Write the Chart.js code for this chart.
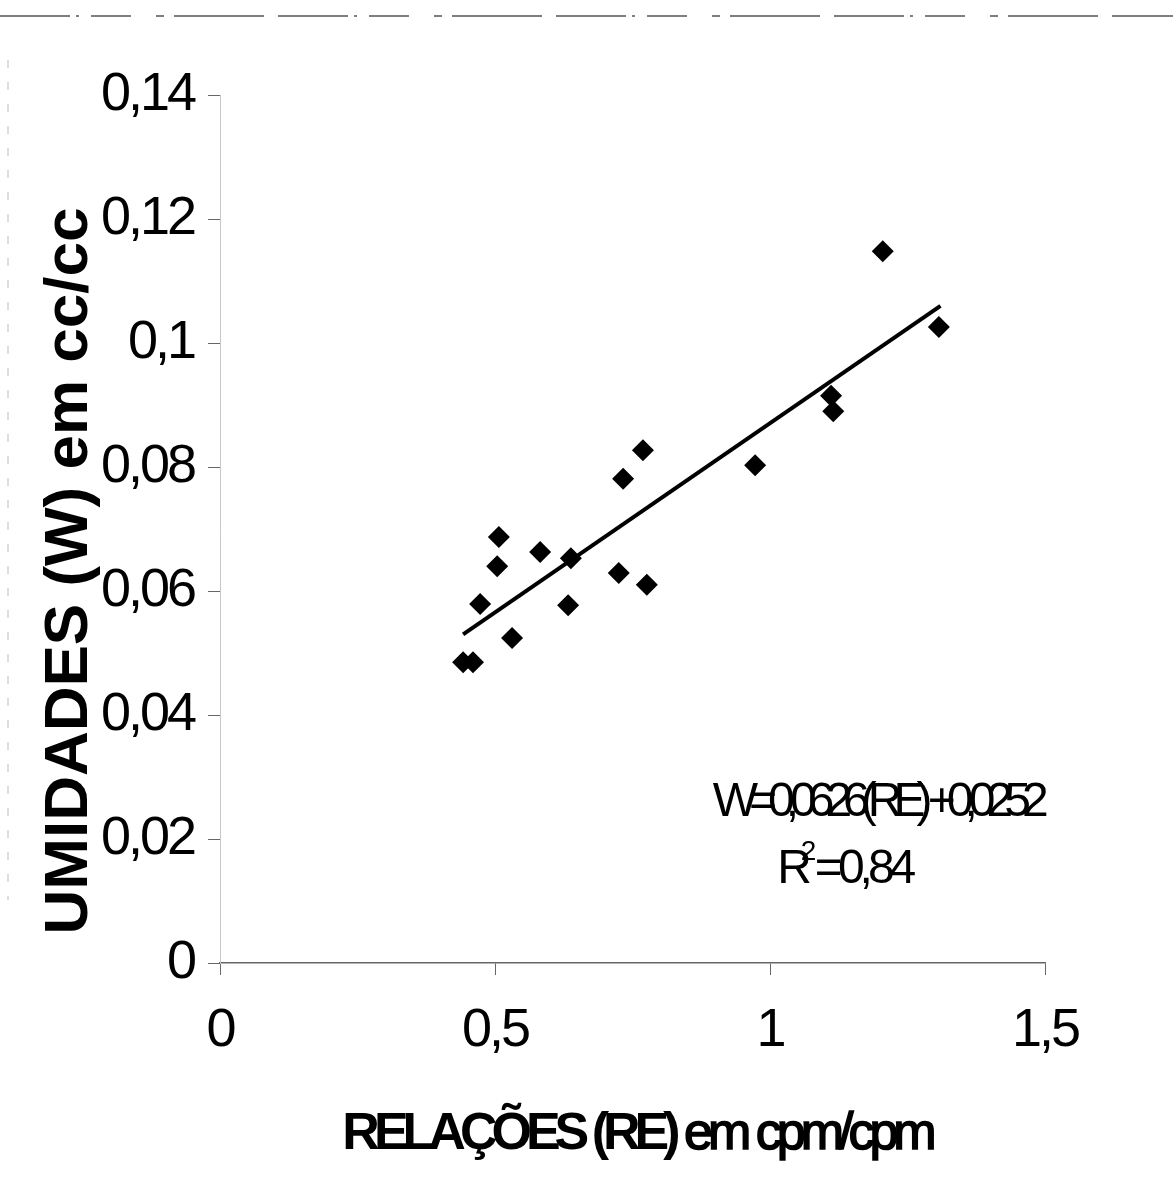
<!DOCTYPE html>
<html>
<head>
<meta charset="utf-8">
<script src="https://cdn.jsdelivr.net/npm/chart.js@4.4.1/dist/chart.umd.min.js"></script>
<style>
  body { margin: 0; background: #fff; }
  canvas { display: block; }
</style>
</head>
<body>
<canvas id="grafico" width="1173" height="1191"></canvas>
<script>
// valores
const relacoes = [0.442, 0.46, 0.473, 0.504, 0.507, 0.531, 0.582, 0.633, 0.638, 0.725, 0.733, 0.769, 0.776, 0.973, 1.111, 1.115, 1.205, 1.307];
const umidades = [0.0485, 0.0485, 0.0579, 0.0640, 0.0687, 0.0524, 0.0663, 0.0577, 0.0653, 0.0629, 0.0781, 0.0827, 0.0610, 0.0803, 0.0915, 0.0890, 0.1148, 0.1026];
const tendenciaX = [0.442, 1.31];
const tendenciaY = [0.0530, 0.1060];
const ticksX = [0, 0.5, 1, 1.5];
const rotulosX = ["0", "0,5", "1", "1,5"];
const ticksY = [0, 0.02, 0.04, 0.06, 0.08, 0.1, 0.12, 0.14];
const rotulosY = ["0", "0,02", "0,04", "0,06", "0,08", "0,1", "0,12", "0,14"];
const tituloX = ["RELAÇÕES (RE)", " em cpm/cpm"];
const tituloY = "UMIDADES (W) em cc/cc";
const equacao = "W=0,0626(RE) +0,0252";
const r2 = "0,84";

const fonte = "'Liberation Sans', Arial, sans-serif";

const pontos = relacoes.map((x, i) => ({x: x, y: umidades[i]}));
const linha = tendenciaX.map((x, i) => ({x: x, y: tendenciaY[i]}));

// rótulos dos eixos um pouco comprimidos como no original
const espacamento = {
    id: "espacamento",
    beforeDraw(chart) {
        chart.ctx.letterSpacing = "-3px";
    }
};

const textos = {
    id: "textos",
    afterDraw(chart) {
        const ctx = chart.ctx;
        const sx = chart.scales.x;
        const sy = chart.scales.y;
        ctx.save();
        ctx.fillStyle = "#000";
        ctx.strokeStyle = "#000";
        ctx.textBaseline = "middle";

        // título do eixo x: parte em negrito e parte normal (mais grossa)
        ctx.textAlign = "left";
        ctx.letterSpacing = "-6px";
        ctx.font = "bold 52px " + fonte;
        const w1 = ctx.measureText(tituloX[0]).width;
        ctx.font = "52px " + fonte;
        ctx.letterSpacing = "-5px";
        const w2 = ctx.measureText(tituloX[1]).width;
        const x0 = 637 - (w1 + w2) / 2;
        ctx.lineWidth = 1.6;
        ctx.fillText(tituloX[1], x0 + w1, 1135);
        ctx.strokeText(tituloX[1], x0 + w1, 1135);
        ctx.font = "bold 52px " + fonte;
        ctx.letterSpacing = "-6px";
        ctx.fillText(tituloX[0], x0, 1135);

        // título do eixo y
        ctx.save();
        ctx.translate(70, 571);
        ctx.rotate(-Math.PI / 2);
        ctx.textAlign = "center";
        ctx.font = "bold 62px " + fonte;
        ctx.letterSpacing = "0px";
        ctx.fillText(tituloY, 0, 0);
        ctx.restore();

        // equação da reta
        ctx.textAlign = "center";
        ctx.font = "48px " + fonte;
        ctx.letterSpacing = "-9px";
        ctx.fillText(equacao, sx.getPixelForValue(1.193), sy.getPixelForValue(0.0258));

        // R² = 0,84
        ctx.letterSpacing = "-5px";
        const cx = sx.getPixelForValue(1.135);
        const cy = sy.getPixelForValue(0.0150);
        const wR = ctx.measureText("R").width;
        const wResto = ctx.measureText("=" + r2).width;
        const total = wR + wResto + 8;
        ctx.textAlign = "left";
        ctx.fillText("R", cx - total / 2, cy);
        ctx.fillText("=" + r2, cx - total / 2 + wR + 8, cy);
        ctx.font = "28px " + fonte;
        ctx.letterSpacing = "0px";
        ctx.fillText("2", cx - total / 2 + wR - 6, cy - 18);

        // bordas tracejadas do scan
        ctx.strokeStyle = "#555";
        ctx.lineWidth = 1.5;
        ctx.setLineDash([70, 6, 3, 12, 40, 25, 8, 10, 90, 14]);
        ctx.beginPath();
        ctx.moveTo(0, 16);
        ctx.lineTo(chart.width, 16);
        ctx.stroke();
        ctx.strokeStyle = "#bbb";
        ctx.lineWidth = 1;
        ctx.setLineDash([8, 14]);
        ctx.beginPath();
        ctx.moveTo(8, 60);
        ctx.lineTo(8, 900);
        ctx.stroke();
        ctx.restore();
    }
};

new Chart(document.getElementById("grafico"), {
    type: "scatter",
    data: {
        datasets: [
            {
                data: pontos,
                pointStyle: "rectRot",
                pointRadius: 11,
                pointBackgroundColor: "#000",
                pointBorderColor: "#000",
                borderWidth: 0,
                order: 1
            },
            {
                type: "line",
                data: linha,
                borderColor: "#000",
                borderWidth: 4,
                pointRadius: 0,
                fill: false,
                order: 2
            }
        ]
    },
    options: {
        responsive: false,
        animation: false,
        events: [],
        layout: {
            padding: {top: 95, right: 128, left: 0, bottom: 0}
        },
        plugins: {
            legend: {display: false},
            tooltip: {enabled: false}
        },
        scales: {
            x: {
                type: "linear",
                min: 0,
                max: 1.5,
                afterBuildTicks: (scale) => {
                    scale.ticks = ticksX.map((v) => ({value: v}));
                },
                afterFit: (scale) => {
                    scale.height = 228;
                },
                ticks: {
                    padding: 24,
                    color: "#000",
                    font: {family: fonte, size: 54},
                    callback: (value) => rotulosX[ticksX.indexOf(value)] ?? ""
                },
                grid: {
                    drawOnChartArea: false,
                    tickLength: 12,
                    color: "#666"
                },
                border: {
                    color: "#666",
                    width: 1.5
                }
            },
            y: {
                type: "linear",
                min: 0,
                max: 0.14,
                afterBuildTicks: (scale) => {
                    scale.ticks = ticksY.map((v) => ({value: v}));
                },
                afterFit: (scale) => {
                    scale.width = 220;
                },
                ticks: {
                    padding: 14,
                    color: "#000",
                    font: {family: fonte, size: 54},
                    callback: (value) => {
                        const i = ticksY.findIndex((t) => Math.abs(t - value) < 1e-9);
                        return i >= 0 ? rotulosY[i] : "";
                    }
                },
                grid: {
                    drawOnChartArea: false,
                    tickLength: 12,
                    color: "#666"
                },
                border: {
                    color: "#c8c8c8",
                    width: 1,
                    dash: [3, 9]
                }
            }
        }
    },
    plugins: [espacamento, textos]
});
</script>
</body>
</html>
